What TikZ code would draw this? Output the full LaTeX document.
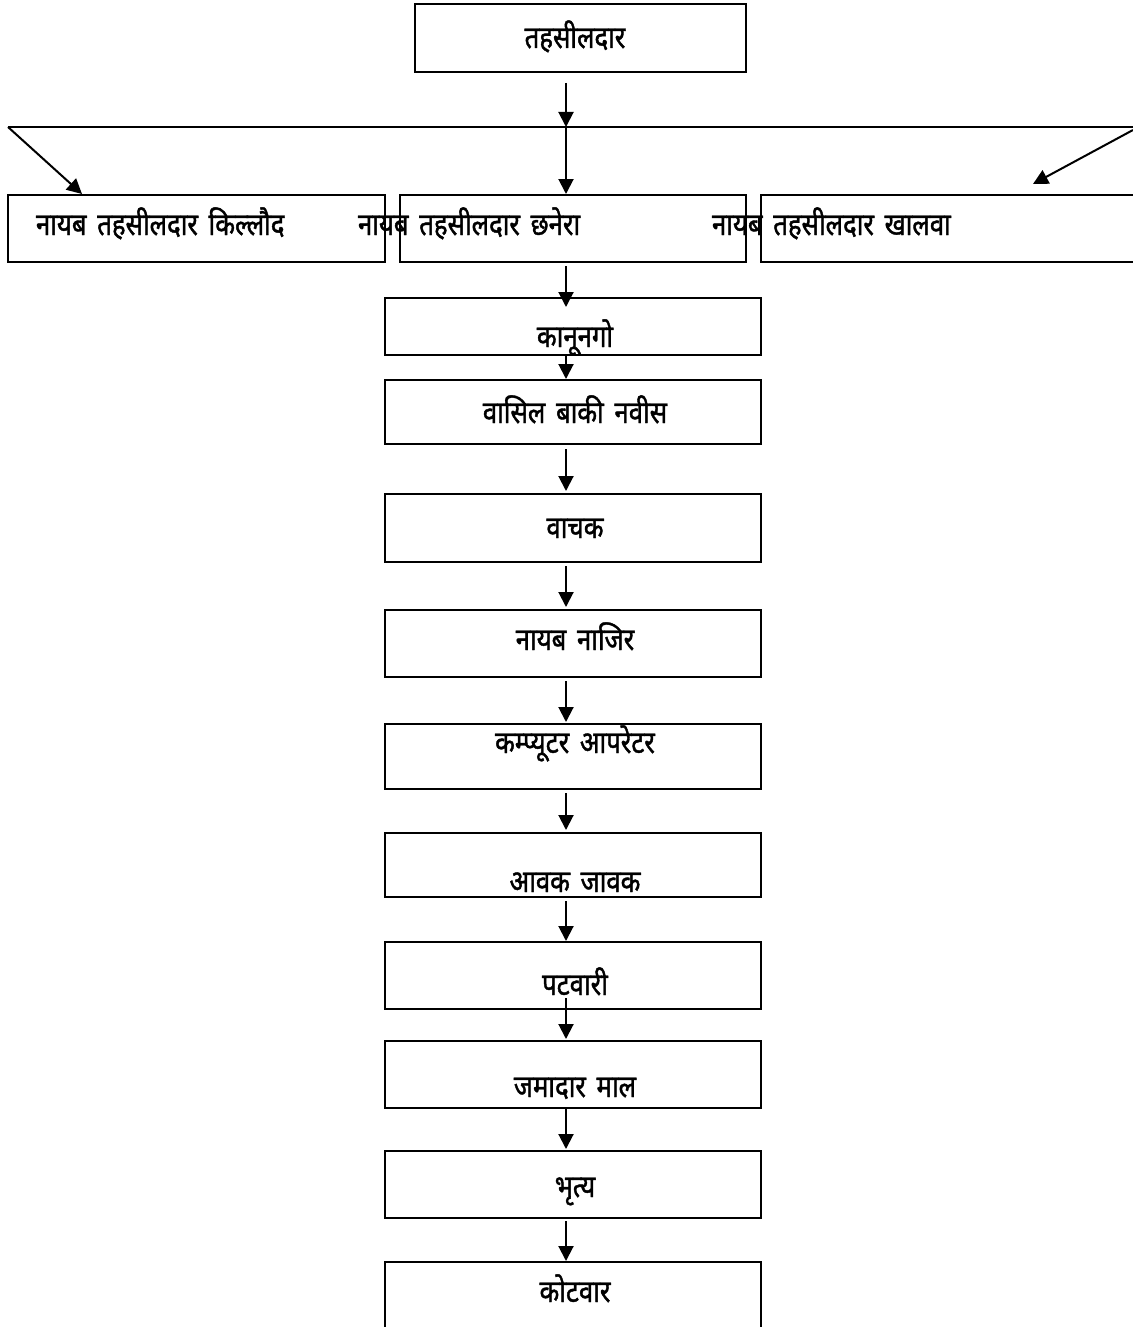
\documentclass[tikz,border=0pt]{standalone}
\usepackage{fontspec}
\newfontfamily\hin[Script=Devanagari,FakeBold=1.3,FakeStretch=0.83,WordSpace=1.6]{Noto Sans}
\usetikzlibrary{arrows.meta}
\begin{document}
\begin{tikzpicture}[x=0.5pt,y=-0.5pt,>={Triangle[width=7.5pt,length=7.5pt]},line width=1pt,
  post/.style={draw,rectangle,inner sep=0pt},
  col/.style={post,minimum width=188pt},
  word/.style={font=\hin\fontsize{15.5}{17}\selectfont,inner sep=0pt,anchor=base},
  flow/.style={->}]
\useasboundingbox (0,0) rectangle (1133,1327);
\coordinate (spine) at (566,0);
\coordinate (barL) at (8,127);
\coordinate (barR) at (1133,127);
\coordinate (barRR) at (1133,130);
% boxes
\node[post,minimum width=165.5pt,minimum height=34pt] (tahsil) at (580.5,38) {};
\node[post,minimum width=188.5pt,minimum height=33.5pt] (left) at (196.5,228.5) {};
\node[post,minimum width=173pt,minimum height=33.5pt] (centre) at (573,228.5) {};
\node[post,minimum width=189.5pt,minimum height=33.5pt] (right) at (950.5,228.5) {};
\node[col,minimum height=28.5pt] (kanungo) at (573,326.5) {};
\node[col,minimum height=32pt] (vasil) at (573,412) {};
\node[col,minimum height=34pt] (vachak) at (573,528) {};
\node[col,minimum height=33.5pt] (nazir) at (573,643.5) {};
\node[col,minimum height=32.5pt] (computer) at (573,756.5) {};
\node[col,minimum height=32pt] (aavak) at (573,865) {};
\node[col,minimum height=33.5pt] (patwari) at (573,975.5) {};
\node[col,minimum height=33.5pt] (jamadar) at (573,1074.5) {};
\node[col,minimum height=33.5pt] (bhritya) at (573,1184.5) {};
\node[col,minimum height=39pt] (kotwar) at (573,1301) {};
% texts
\node[word] (t-tahsil) at (575,48) {तहसीलदार};
\node[word,anchor=base west] (t-left) at (35,235) {नायब तहसीलदार किल्लौद};
\node[word,anchor=base west] (t-centre) at (357,235) {नायब तहसीलदार छनेरा};
\node[word,anchor=base west] (t-right) at (711,235) {नायब तहसीलदार खालवा};
\node[word] (t-kanungo) at (575,347) {कानूनगो};
\node[word] (t-vasil) at (575,423) {वासिल बाकी नवीस};
\node[word] (t-vachak) at (575,538) {वाचक};
\node[word] (t-nazir) at (575,650) {नायब नाजिर};
\node[word] (t-computer) at (575,753) {कम्प्यूटर आपरेटर};
\node[word] (t-aavak) at (575,892) {आवक जावक};
\node[word] (t-patwari) at (575,995) {पटवारी};
\node[word] (t-jamadar) at (575,1097) {जमादार माल};
\node[word] (t-bhritya) at (575,1197) {भृत्य};
\node[word] (t-kotwar) at (575,1302) {कोटवार};
% connectors
\draw[flow,shorten <=5pt] (tahsil.south -| spine) -- (barL -| spine);
\draw (barL) -- (barR);
\draw[flow] (barL) -- ([xshift=-57.25pt]left.north);
\draw[flow] (barRR) -- ([xshift=41.25pt,yshift=5pt]right.north);
\draw[flow] (barL -| spine) -- (centre.north -| spine);
\draw[flow,shorten <=1.5pt,shorten >=-5pt] (centre.south -| spine) -- (kanungo.north -| spine);
\draw[flow] (kanungo.south -| spine) -- (vasil.north -| spine);
\draw[flow,shorten <=2pt,shorten >=1pt] (vasil.south -| spine) -- (vachak.north -| spine);
\draw[flow,shorten <=1.5pt,shorten >=1pt] (vachak.south -| spine) -- (nazir.north -| spine);
\draw[flow,shorten <=1.5pt,shorten >=0.5pt] (nazir.south -| spine) -- (computer.north -| spine);
\draw[flow,shorten <=1.5pt,shorten >=1pt] (computer.south -| spine) -- (aavak.north -| spine);
\draw[flow,shorten <=1.5pt] (aavak.south -| spine) -- (patwari.north -| spine);
\draw[flow,shorten <=-6pt,shorten >=0.5pt] (patwari.south -| spine) -- (jamadar.north -| spine);
\draw[flow,shorten >=0.5pt] (jamadar.south -| spine) -- (bhritya.north -| spine);
\draw[flow,shorten <=1pt] (bhritya.south -| spine) -- (kotwar.north -| spine);
\end{tikzpicture}
\end{document}
